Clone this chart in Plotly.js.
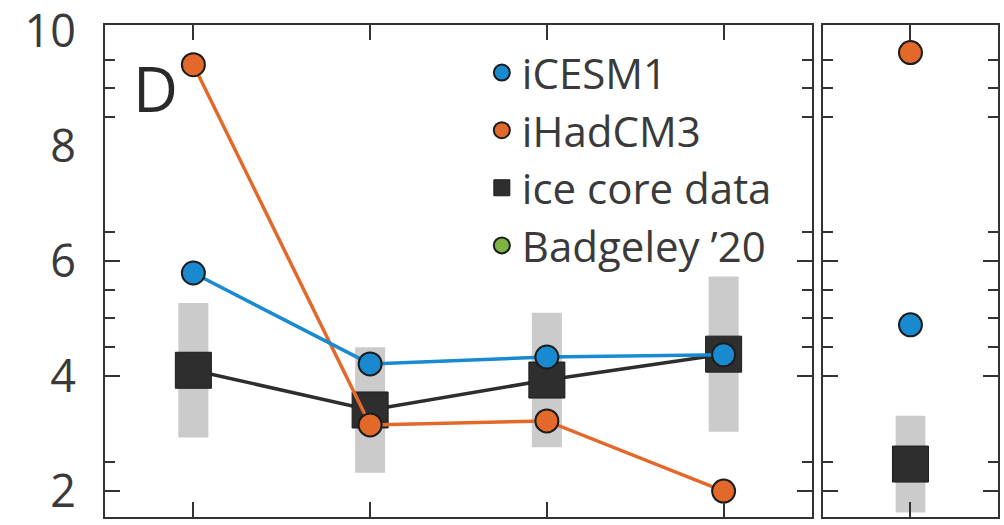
<!DOCTYPE html>
<html>
<head>
<meta charset="utf-8">
<script src="https://cdn.plot.ly/plotly-3.0.1.min.js"></script>
<style>
  html, body { margin: 0; padding: 0; background: #fff; }
  #chart { width: 1004px; height: 525px; }
</style>
</head>
<body>
<div id="chart"></div>
<script>
// Four periods in the main panel, one extra case in the side panel
const periods = [0, 1, 2, 3];
const sidePeriod = [0];

// Model results
const iCESM1 = [5.79, 4.21, 4.33, 4.37];
const iHadCM3 = [9.41, 3.15, 3.22, 2.0];
const iCESM1Side = [4.89];
const iHadCM3Side = [9.62];

// Ice core estimates and their uncertainty (half range)
const iceCore = [4.10, 3.41, 3.93, 4.38];
const iceCoreErr = [1.17, 1.09, 1.17, 1.35];
const iceCoreSide = [2.47];
const iceCoreSideErr = [0.84];

// Legend-only series
const badgeley = [];

const yLabels = [2, 4, 6, 8, 10];
const yMajorTicks = [2, 4, 6];
const yMinorTicks = [2.5, 4.5, 5, 5.5, 6.5, 8.5, 9, 9.5];

const BLUE = '#1a8ad0';
const ORANGE = '#e2692a';
const SQUARE = '#2e2e2e';
const GREY_BAR = '#cbcbcb';
const GREEN = '#7cb342';
const AXIS = '#333333';
const OUTLINE = '#1c1c1c';

function rangeBars(x, mid, err, xa, ya) {
  return {
    type: 'bar', x: x,
    base: mid.map((v, i) => v - err[i]),
    y: err.map(e => 2 * e),
    width: 0.17,
    marker: { color: GREY_BAR, line: { width: 0 } },
    xaxis: xa, yaxis: ya, showlegend: false, hoverinfo: 'skip'
  };
}

function line(x, y, color, width, xa, ya, group) {
  return {
    type: 'scatter', mode: 'lines', x: x, y: y,
    line: { color: color, width: width },
    xaxis: xa, yaxis: ya, showlegend: false, legendgroup: group, hoverinfo: 'skip'
  };
}

function dots(x, y, name, color, symbol, size, xa, ya, show) {
  return {
    type: 'scatter', mode: 'markers', x: x, y: y, name: name,
    marker: {
      color: color, symbol: symbol, size: size,
      line: { color: OUTLINE, width: symbol === 'square' ? 1 : 2 }
    },
    xaxis: xa, yaxis: ya, showlegend: show, legendgroup: name, hoverinfo: 'skip'
  };
}

const traces = [
  rangeBars(periods, iceCore, iceCoreErr, 'x', 'y'),
  rangeBars(sidePeriod, iceCoreSide, iceCoreSideErr, 'x2', 'y2'),

  line(periods, iceCore, SQUARE, 3.5, 'x', 'y', 'ice core data'),
  dots(periods, iceCore, 'ice core data', SQUARE, 'square', 36, 'x', 'y', false),
  dots(sidePeriod, iceCoreSide, 'ice core data', SQUARE, 'square', 36, 'x2', 'y2', false),

  line(periods, iHadCM3, ORANGE, 3.5, 'x', 'y', 'iHadCM3'),
  dots(periods, iHadCM3, 'iHadCM3', ORANGE, 'circle', 23, 'x', 'y', false),
  dots(sidePeriod, iHadCM3Side, 'iHadCM3', ORANGE, 'circle', 23, 'x2', 'y2', false),

  line(periods, iCESM1, BLUE, 3.5, 'x', 'y', 'iCESM1'),
  dots(periods, iCESM1, 'iCESM1', BLUE, 'circle', 23, 'x', 'y', false),
  dots(sidePeriod, iCESM1Side, 'iCESM1', BLUE, 'circle', 23, 'x2', 'y2', false),

  // legend entries, in display order
  dots([null], [null], 'iCESM1', BLUE, 'circle', 16, 'x', 'y', true),
  dots([null], [null], 'iHadCM3', ORANGE, 'circle', 16, 'x', 'y', true),
  dots([null], [null], 'ice core data', SQUARE, 'square', 16, 'x', 'y', true),
  dots(badgeley.length ? badgeley : [null], badgeley.length ? badgeley : [null],
       'Badgeley \u201920', GREEN, 'circle', 16, 'x', 'y', true),

  // carries the overlaid label axis
  { type: 'scatter', mode: 'markers', x: [], y: [], xaxis: 'x', yaxis: 'y3',
    showlegend: false, hoverinfo: 'skip' }
];

const Y_RANGE = [1.55, 10.1];

const tickAxis = {
  range: Y_RANGE, fixedrange: true,
  showline: true, linecolor: AXIS, linewidth: 2, mirror: 'ticks',
  showgrid: false, zeroline: false,
  tickmode: 'array', tickvals: yMajorTicks,
  ticks: 'inside', ticklen: 15, tickwidth: 2, tickcolor: AXIS,
  showticklabels: false,
  minor: { tickmode: 'array', tickvals: yMinorTicks, ticks: 'inside',
           ticklen: 10, tickwidth: 2, tickcolor: AXIS, showgrid: false }
};

const layout = {
  width: 1004, height: 525,
  margin: { l: 105, r: 6, t: 25, b: 8, pad: 0 },
  paper_bgcolor: '#ffffff', plot_bgcolor: '#ffffff',
  font: { family: '"Open Sans", "Noto Sans", sans-serif', color: '#3a3a3a' },
  barmode: 'overlay',
  showlegend: true,
  legend: {
    x: 0.422, y: 0.972, xanchor: 'left', yanchor: 'top',
    bgcolor: 'rgba(255,255,255,0)', borderwidth: 0,
    font: { size: 42, color: '#3a3a3a' },
    traceorder: 'normal', tracegroupgap: 0, itemclick: false, itemdoubleclick: false
  },
  xaxis: {
    domain: [0, 0.7917], range: [-0.5, 3.5], fixedrange: true,
    showline: true, linecolor: AXIS, linewidth: 2, mirror: 'ticks',
    showgrid: false, zeroline: false,
    tickmode: 'array', tickvals: periods,
    ticks: 'inside', ticklen: 15, tickwidth: 2, tickcolor: AXIS,
    showticklabels: false
  },
  xaxis2: {
    domain: [0.804, 1], range: [-0.5, 0.5], anchor: 'y2', fixedrange: true,
    showline: true, linecolor: AXIS, linewidth: 2, mirror: 'ticks',
    showgrid: false, zeroline: false,
    tickmode: 'array', tickvals: sidePeriod,
    ticks: 'inside', ticklen: 15, tickwidth: 2, tickcolor: AXIS,
    showticklabels: false
  },
  yaxis: Object.assign({ anchor: 'x' }, tickAxis),
  yaxis2: Object.assign({ anchor: 'x2' }, tickAxis),
  yaxis3: {
    overlaying: 'y', anchor: 'x', side: 'left', range: Y_RANGE, fixedrange: true,
    showline: false, showgrid: false, zeroline: false,
    tickmode: 'array', tickvals: yLabels, ticktext: yLabels.map(String),
    ticks: '', ticklabelstandoff: 28, ticklabeloverflow: 'allow',
    tickfont: { size: 45, color: '#3a3a3a' }
  },
  annotations: [{
    text: 'D', xref: 'paper', yref: 'paper', x: 0.056, y: 0.872,
    xanchor: 'center', yanchor: 'middle', showarrow: false,
    font: { size: 62, color: '#2a2a2a' }
  }]
};

Plotly.newPlot('chart', traces, layout, { displayModeBar: false, staticPlot: true });
</script>
</body>
</html>
